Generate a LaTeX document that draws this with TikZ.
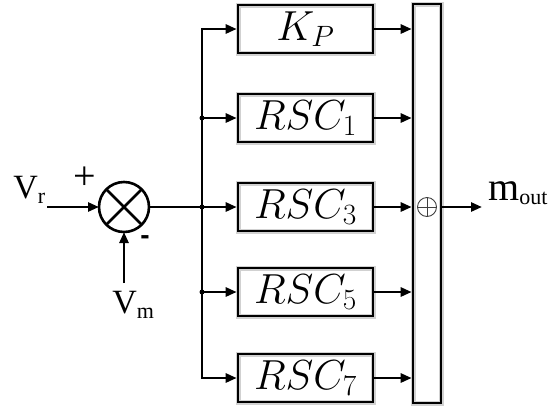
\RequirePackage{fix-cm}
\documentclass[tikz,border=0pt]{standalone}
\usepackage{fontspec}
\newfontfamily\tms{Liberation Serif}
\newfontfamily\arb{Liberation Sans}
\usetikzlibrary{arrows.meta,calc}
\begin{document}
\begin{tikzpicture}[x=1pt,y=-1pt,line width=2.6pt,
  arr/.style={-{Triangle[length=11pt,width=9pt]}},
  blk/.style={draw,minimum width=135pt,minimum height=48pt,inner sep=0pt,
    font=\fontsize{42}{44}\selectfont,
    preaction={draw=black!18,line width=5pt}},
  lbl/.style={inner sep=0pt,anchor=base west,font=\tms\fontsize{34}{36}\selectfont},
  dot/.style={circle,fill,inner sep=0pt,minimum size=5pt}]
\useasboundingbox (0,0) rectangle (549,408);
% blocks
\node[blk] (KP) at (305.5,29) {$K_P$};
\node[blk] (R1) at (305.5,118) {$RSC_1$};
\node[blk] (R3) at (305.5,207) {$RSC_3$};
\node[blk] (R5) at (305.5,292) {$RSC_5$};
\node[blk] (R7) at (305.5,378) {$RSC_7$};
% summing bar
\node[draw,minimum width=28pt,minimum height=399pt,inner sep=0pt,
  preaction={draw=black!18,line width=5pt}] (sum) at (427,203.5) {};
\node[circle,draw=black!75,line width=0.9pt,minimum size=19pt,inner sep=0pt,outer sep=0pt] (plusc) at (427,207) {};
\draw[black!75,line width=0.9pt] (plusc.north) -- (plusc.south) (plusc.west) -- (plusc.east);
% multiplier
\node[circle,draw,minimum size=50pt,inner sep=0pt,outer sep=0pt] (mult) at (124,207) {};
\draw (mult.45) -- (mult.225) (mult.135) -- (mult.315);
% inputs
\coordinate (vin) at (47,207);
\coordinate (vmin) at (124,283);
\draw[arr] (vin) -- (mult.west);
\draw[arr] (vmin) -- (mult.south);
\node[lbl] (vr) at (12,198) {V\raisebox{-5pt}{\fontsize{22}{24}\selectfont r}};
\node[lbl] (vm) at (111,313) {V\raisebox{-5pt}{\fontsize{22}{24}\selectfont m}};
\node[inner sep=0pt,font=\tms\fontsize{40}{42}\selectfont] (plus) at (85,178) {+};
\node[inner sep=0pt,font=\arb\bfseries\fontsize{28}{30}\selectfont] (minus) at (145,240) {-};
% bus
\coordinate (bus) at (202,207);
\draw (mult.east) -- (bus);
\draw[arr] (bus) -- (R3.west);
\draw[arr] (bus) |- (KP.west);
\draw[arr] (bus) |- (R7.west);
\draw[arr] (bus |- R1.west) -- (R1.west);
\draw[arr] (bus |- R5.west) -- (R5.west);
\node[dot] (d1) at (bus |- R1.west) {};
\node[dot] (d3) at (bus) {};
\node[dot] (d5) at (bus |- R5.west) {};
% to summing bar
\foreach \n in {KP,R1,R3,R5,R7} \draw[arr] (\n.east) -- (\n.east -| sum.west);
% output
\coordinate (outend) at (482,207);
\draw[arr] (outend -| sum.east) -- (outend);
\node[inner sep=0pt,anchor=base west,font=\tms\fontsize{40}{42}\selectfont] (mout) at (487,200) {m\raisebox{-4pt}{\fontsize{22}{24}\selectfont out}};
\end{tikzpicture}
\end{document}
